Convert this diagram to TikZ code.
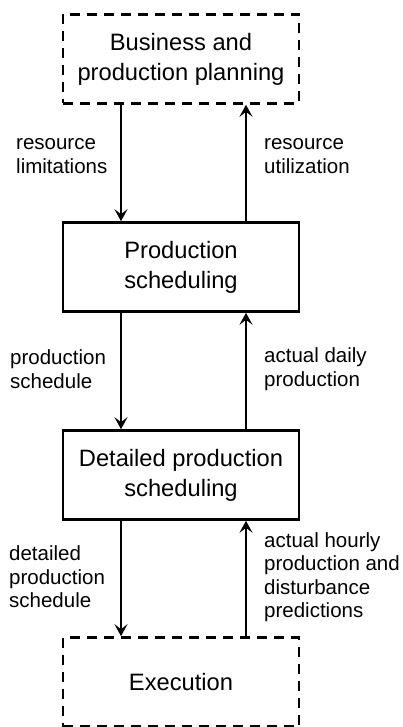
\documentclass[tikz,border=0pt]{standalone}
\usepackage{fontspec}
\setmainfont{Liberation Sans}
\usetikzlibrary{arrows.meta}
\begin{document}
\begin{tikzpicture}[x=1pt,y=1pt,
  boxbase/.style={minimum width=236pt,minimum height=89pt,inner sep=0pt,align=center,
    font=\fontsize{23.7}{30}\selectfont,line width=2.6pt},
  solidbox/.style={boxbase,draw},
  dashbox/.style={boxbase,draw,dash pattern=on 10pt off 7pt},
  lbl/.style={inner sep=0pt,align=left,font=\fontsize{20.5}{23.5}\selectfont},
  arr/.style={line width=2.2pt,-{Stealth[length=12pt,width=13pt,inset=5pt]}}]
\useasboundingbox (0,0) rectangle (403,-727);
\node[dashbox] (bpp) at (181,-59) {Business and\\production planning};
\node[solidbox] (ps) at (181,-267) {Production\\scheduling};
\node[solidbox] (dps) at (181,-475) {Detailed production\\scheduling};
\node[dashbox] (ex) at (181,-682) {Execution};
\coordinate (lx) at (121,0);
\coordinate (rx) at (246,0);
\draw[arr] (bpp.south -| lx) -- (ps.north -| lx);
\draw[arr] (ps.north -| rx) -- (bpp.south -| rx);
\draw[arr] (ps.south -| lx) -- (dps.north -| lx);
\draw[arr] (dps.north -| rx) -- (ps.south -| rx);
\draw[arr] (dps.south -| lx) -- (ex.north -| lx);
\draw[arr] (ex.north -| rx) -- (dps.south -| rx);
\node[lbl,anchor=west] (l1) at (16,-156) {resource\\limitations};
\node[lbl,anchor=west] (r1) at (264,-156) {resource\\utilization};
\node[lbl,anchor=west] (l2) at (10,-369) {production\\schedule};
\node[lbl,anchor=west] (r2) at (264,-369) {actual daily\\production};
\node[lbl,anchor=west] (l3) at (9,-577) {detailed\\production\\schedule};
\node[lbl,anchor=west] (r3) at (264,-577) {actual hourly\\production and\\disturbance\\predictions};
\end{tikzpicture}
\end{document}
